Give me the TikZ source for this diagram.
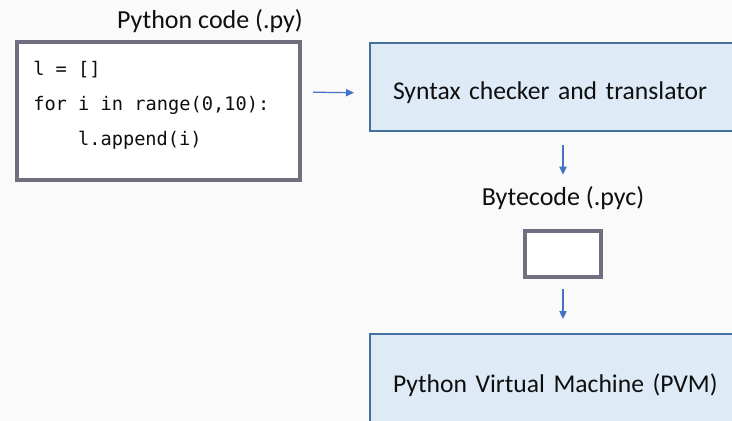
\documentclass[tikz,border=0pt]{standalone}
\usepackage{fontspec}
\setmainfont{Carlito}
\setmonofont{DejaVu Sans Mono}
\usetikzlibrary{arrows.meta,positioning}
\definecolor{pagebg}{RGB}{250,250,250}
\definecolor{filegray}{RGB}{112,111,128}
\definecolor{stageblue}{RGB}{65,113,156}
\definecolor{stagefill}{RGB}{222,235,247}
\definecolor{flowblue}{RGB}{68,114,196}
\definecolor{inktext}{RGB}{15,15,15}

\begin{document}
\begin{tikzpicture}[
  x=0.75pt,y=-0.75pt,
  filebox/.style={draw=filegray,line width=3pt,fill=white},
  stage/.style={draw=stageblue,line width=1.5pt,fill=stagefill,align=left,
                text width=300pt,inner xsep=17.25pt,minimum height=66pt,
                text height=24pt,text depth=6pt,
                font=\fontsize{19.2}{23}\selectfont,text=inktext},
  caption/.style={font=\fontsize{19.5}{23}\selectfont,text=inktext,inner sep=0pt},
  codetext/.style={font=\ttfamily\fontsize{14}{26.25}\selectfont,align=left,
                   text=inktext,inner sep=0pt},
  link/.style={-{Triangle[length=6pt,width=5.5pt]},line width=0.9pt,draw=flowblue}
]
\useasboundingbox (0,0) rectangle (732,421);
\fill[pagebg] (0,0) rectangle (732,421);

% source file
\node[filebox,minimum width=212.25pt,minimum height=103.5pt] (pyfile) at (158.5,111) {};
\node[codetext,anchor=west] (code) at (33,105)
  {l = []\\for i in range(0,10):\\\hspace*{2.4em}l.append(i)};
\node[caption,anchor=base] (pylabel) at (210,28) {Python code (.py)};

% compiler stage
\node[stage,anchor=north west] (syntax) at (369,42) {Syntax checker and translator};

% bytecode
\node[caption,anchor=base] (bclabel) at (563,205) {Bytecode (.pyc)};
\node[filebox,minimum width=57pt,minimum height=34.5pt] (bcbox) at (563,254) {};

% virtual machine
\node[stage,anchor=north west,minimum height=69pt] (pvm) at (369,333) {Python Virtual Machine (PVM)};

\draw[link,shorten <=8.25pt,shorten >=11.25pt] ([yshift=14.25pt]pyfile.east) -- ([yshift=-4.5pt]syntax.west);
\draw[link,shorten <=9.75pt,shorten >=8.25pt] (bclabel.north |- syntax.south) -- (bclabel.north);
\draw[link,shorten <=7.5pt,shorten >=10.5pt] (bcbox.south) -- (bcbox.south |- pvm.north);
\end{tikzpicture}
\end{document}
